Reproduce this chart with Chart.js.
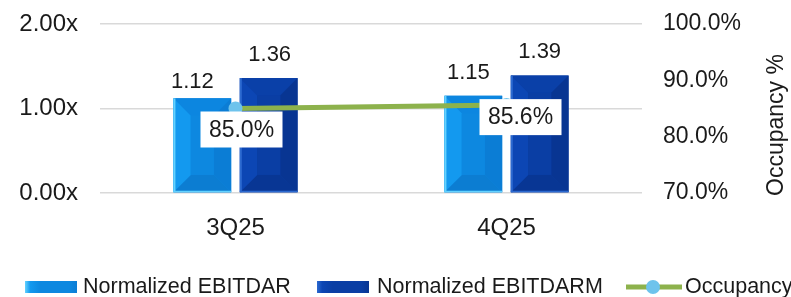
<!DOCTYPE html>
<html>
<head>
<meta charset="utf-8">
<script src="https://cdn.jsdelivr.net/npm/chart.js@4.4.0/dist/chart.umd.min.js"></script>
<style>
  html, body { margin: 0; padding: 0; background: #fff; }
  #wrap { width: 791px; height: 297px; position: relative; }
</style>
</head>
<body>
<div id="wrap"><canvas id="coverageChart"></canvas></div>
<script>
// 데이터
const quarters = ["3Q25", "4Q25"];
const ebitdar = [1.12, 1.15];
const ebitdarm = [1.36, 1.39];
const occupancy = [85.0, 85.6];
const seriesNames = ["Normalized EBITDAR", "Normalized EBITDARM", "Occupancy"];

const FONT = "'Liberation Sans', Arial, sans-serif";
const TEXT = "#1a1a1a";

// 막대 색 (면 별로)
const bevelColors = [
  { center: "#0d88e0", top: "#0c86e0", left: "#1399ef", right: "#0b7dd5", bottom: "#0c7dd2", edge: "#63d2ff" },
  { center: "#0a3ea4", top: "#0a40a8", left: "#0c46b4", right: "#083592", bottom: "#083694", edge: "#2c6ad0" }
];

function poly(ctx, pts, color) {
  ctx.beginPath();
  ctx.moveTo(pts[0][0], pts[0][1]);
  pts.slice(1).forEach(p => ctx.lineTo(p[0], p[1]));
  ctx.closePath();
  ctx.fillStyle = color;
  ctx.fill();
}

// 피라미드 모양 막대
const bevelPlugin = {
  id: 'bevel',
  afterDatasetDraw(chart, args) {
    if (args.meta.type !== 'bar') return;
    const c = bevelColors[args.index];
    const ctx = chart.ctx;
    ctx.save();
    args.meta.data.forEach(bar => {
      const l = bar.x - bar.width / 2, r = bar.x + bar.width / 2;
      const t = bar.y, b = bar.base;
      const d = Math.min(bar.width * 0.3, (b - t) / 2);
      poly(ctx, [[l, t], [r, t], [r - d, t + d], [l + d, t + d]], c.top);
      poly(ctx, [[l, b], [r, b], [r - d, b - d], [l + d, b - d]], c.bottom);
      poly(ctx, [[l, t], [l + d, t + d], [l + d, b - d], [l, b]], c.left);
      poly(ctx, [[r, t], [r - d, t + d], [r - d, b - d], [r, b]], c.right);
      ctx.fillStyle = c.center;
      ctx.fillRect(l + d, t + d, r - l - 2 * d, b - t - 2 * d);
      ctx.fillStyle = c.edge;
      ctx.fillRect(l, t, 2, b - t);
      ctx.fillRect(l, b - 1.5, r - l, 1.5);
    });
    ctx.restore();
  }
};

// 값 라벨 + 점유율 박스
const labelPlugin = {
  id: 'labels',
  afterDatasetsDraw(chart, args, opts) {
    const ctx = chart.ctx;
    ctx.save();
    ctx.textAlign = 'center';
    ctx.textBaseline = 'middle';
    ctx.font = `22px ${FONT}`;
    ctx.fillStyle = TEXT;
    [0, 1].forEach(di => {
      chart.getDatasetMeta(di).data.forEach((bar, i) => {
        const v = chart.data.datasets[di].data[i];
        const o = opts.barShift[di][i];
        ctx.fillText(v.toFixed(2), bar.x + o[0], bar.y - o[1]);
      });
    });
    ctx.font = `23px ${FONT}`;
    chart.getDatasetMeta(2).data.forEach((pt, i) => {
      const v = chart.data.datasets[2].data[i];
      const o = opts.occShift[i];
      const cx = pt.x + o[0], cy = pt.y + o[1];
      ctx.fillStyle = '#fff';
      ctx.fillRect(cx - 41, cy - 18, 82, 36);
      ctx.fillStyle = TEXT;
      ctx.fillText(v.toFixed(1) + '%', cx, cy + 1);
    });
    ctx.restore();
  }
};

// 범례 + 오른쪽 축 제목
const legendPlugin = {
  id: 'customLegend',
  afterDraw(chart) {
    const ctx = chart.ctx;
    ctx.save();
    const drawBox = (x, c) => {
      const g = ctx.createLinearGradient(x, 0, x + 52, 0);
      g.addColorStop(0, c.edge);
      g.addColorStop(0.1, c.left);
      g.addColorStop(0.3, c.center);
      g.addColorStop(0.85, c.center);
      g.addColorStop(1, c.right);
      ctx.fillStyle = g;
      ctx.fillRect(x, 281, 52, 12);
    };
    drawBox(25, bevelColors[0]);
    drawBox(317, bevelColors[1]);

    ctx.strokeStyle = '#8db24c';
    ctx.lineWidth = 5;
    ctx.beginPath();
    ctx.moveTo(626, 287);
    ctx.lineTo(682, 287);
    ctx.stroke();
    ctx.fillStyle = '#6ec3ec';
    ctx.beginPath();
    ctx.arc(653, 287, 7, 0, Math.PI * 2);
    ctx.fill();

    ctx.fillStyle = TEXT;
    ctx.font = `21.5px ${FONT}`;
    ctx.textBaseline = 'alphabetic';
    ctx.textAlign = 'left';
    ctx.fillText(seriesNames[0], 83, 293);
    ctx.fillText(seriesNames[1], 377, 293);
    ctx.fillText(seriesNames[2], 685, 293);

    ctx.translate(777, 125);
    ctx.rotate(-Math.PI / 2);
    ctx.textAlign = 'center';
    ctx.textBaseline = 'middle';
    ctx.font = `23px ${FONT}`;
    ctx.fillText('Occupancy %', 0, 0);
    ctx.restore();
  }
};

// 축 라벨 여백 때문에 차트 영역이 밀리지 않게
const fixPad = s => { s.paddingTop = 12; s.paddingBottom = 12; };

new Chart(document.getElementById("coverageChart"), {
  type: 'bar',
  data: {
    labels: quarters,
    datasets: [
      {
        label: seriesNames[0],
        data: ebitdar,
        backgroundColor: bevelColors[0].center,
        yAxisID: 'y',
        order: 2,
        barPercentage: 0.87,
        categoryPercentage: 0.49
      },
      {
        label: seriesNames[1],
        data: ebitdarm,
        backgroundColor: bevelColors[1].center,
        yAxisID: 'y',
        order: 2,
        barPercentage: 0.87,
        categoryPercentage: 0.49
      },
      {
        type: 'line',
        label: seriesNames[2],
        data: occupancy,
        yAxisID: 'y1',
        order: 1,
        borderColor: '#8db24c',
        borderWidth: 5,
        pointRadius: 7,
        pointBackgroundColor: '#6ec3ec',
        pointBorderWidth: 0,
        tension: 0
      }
    ]
  },
  options: {
    responsive: true,
    maintainAspectRatio: false,
    animation: false,
    layout: { padding: { top: 24, left: 0, right: 0, bottom: 0 } },
    plugins: {
      legend: { display: false },
      tooltip: { enabled: false },
      labels: {
        barShift: [[[-10, 16], [-5, 23]], [[1, 23], [0, 24]]],
        occShift: [[6, 21], [14, 12]]
      }
    },
    scales: {
      x: {
        grid: { display: false },
        border: { display: false },
        ticks: { font: { size: 24, family: FONT }, color: TEXT, padding: 13 },
        afterFit: s => { s.height = 104; }
      },
      y: {
        position: 'left',
        min: 0,
        max: 2,
        ticks: {
          stepSize: 1,
          font: { size: 24, family: FONT },
          color: TEXT,
          padding: 22,
          callback: v => v.toFixed(2) + 'x'
        },
        grid: { color: '#d9d9d9', lineWidth: 1.5, drawTicks: false },
        border: { display: false },
        afterFit: s => { s.width = 100; fixPad(s); }
      },
      y1: {
        position: 'right',
        min: 70,
        max: 100,
        ticks: {
          stepSize: 10,
          font: { size: 23, family: FONT },
          color: TEXT,
          padding: 21,
          callback: v => v.toFixed(1) + '%'
        },
        grid: { drawOnChartArea: false, drawTicks: false },
        border: { display: false },
        afterFit: s => { s.width = 149; fixPad(s); }
      }
    }
  },
  plugins: [bevelPlugin, labelPlugin, legendPlugin]
});
</script>
</body>
</html>
